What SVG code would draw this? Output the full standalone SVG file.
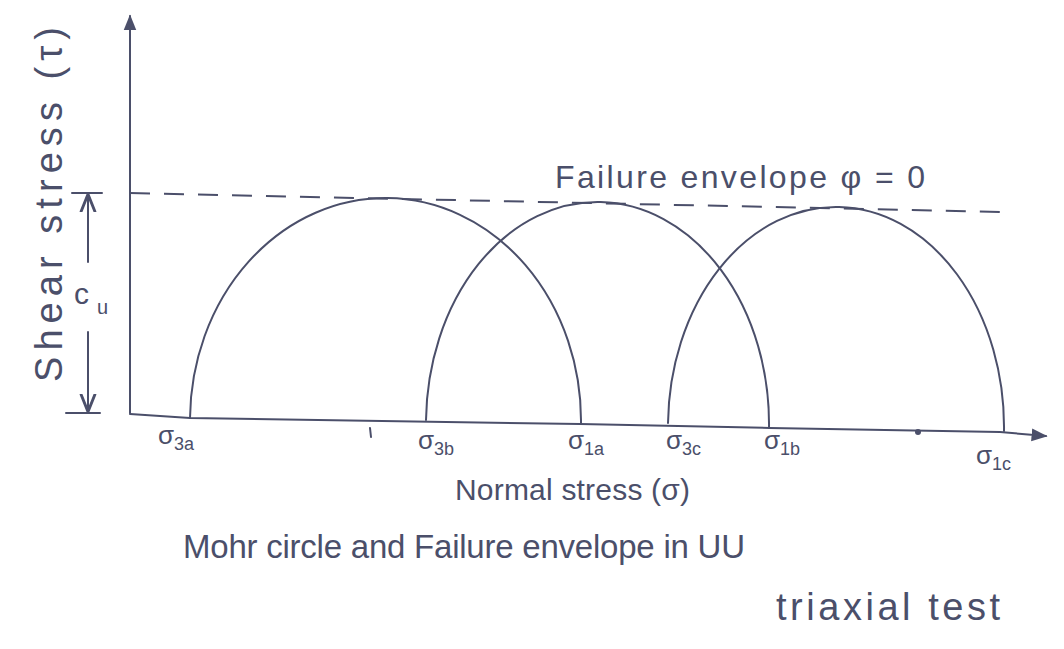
<svg xmlns="http://www.w3.org/2000/svg" width="1064" height="649" viewBox="0 0 1064 649">
<defs>
<style>
.ink{stroke:#4b4f6a;stroke-width:2;fill:none;stroke-linecap:round}
.dash{stroke:#4b4f6a;stroke-width:2;fill:none;stroke-dasharray:20 14}
.t{font-family:"Liberation Sans",Arial,sans-serif;fill:#4b4f6a}
.lab{font-size:26px}
.sub{font-size:18px}
</style>
<marker id="ah" viewBox="0 0 10 10" refX="9" refY="5" markerWidth="8" markerHeight="8" orient="auto-start-reverse">
<path d="M0,1 L10,5 L0,9 Z" fill="#4b4f6a"/>
</marker>
<marker id="oa" viewBox="0 0 10 10" refX="9" refY="5" markerWidth="9" markerHeight="9" orient="auto-start-reverse">
<path d="M0,1 L10,5 L0,9" fill="none" stroke="#4b4f6a" stroke-width="1.6"/>
</marker>
</defs>
<rect width="1064" height="649" fill="#ffffff"/>
<g id="axes">
<line class="ink" x1="130" y1="413" x2="130" y2="16" marker-end="url(#ah)"/>
<path class="ink" d="M130,414 L190,418 L580,424 L770,428 L1000,432 L1046,436" marker-end="url(#ah)"/>
<path class="ink" d="M370,428 L371,437"/>
<circle cx="918" cy="432" r="3" fill="#4b4f6a"/>
</g>
<g id="envelope">
<line class="dash" x1="130" y1="193" x2="1000" y2="212"/>
<text class="t" x="555" y="188" font-size="32" textLength="370" lengthAdjust="spacing">Failure envelope φ = 0</text>
</g>
<g id="circles">
<path class="ink" d="M190,418 A195 222 0 0 1 581,423"/>
<path class="ink" d="M426,420 A170 220 0 0 1 769,428"/>
<path class="ink" d="M668,423 A168 220 0 0 1 1004,431"/>
</g>
<g id="cu">
<line class="ink" x1="72" y1="193" x2="102" y2="193"/>
<line class="ink" x1="66" y1="413" x2="100" y2="413"/>
<line class="ink" x1="88" y1="262" x2="88" y2="196" marker-end="url(#oa)"/>
<line class="ink" x1="88" y1="332" x2="88" y2="410" marker-end="url(#oa)"/>
<text class="t" x="74" y="304" font-size="30">c</text>
<text class="t" x="97" y="314" font-size="20">u</text>
</g>
<g id="ylabel">
<text class="t" font-size="38" transform="translate(62,382) rotate(-90)" textLength="355" lengthAdjust="spacing">Shear stress (τ)</text>
</g>
<g id="ticklabels">
<text x="158" y="444" class="t lab">σ<tspan class="sub" dy="6">3a</tspan></text>
<text x="418" y="449" class="t lab">σ<tspan class="sub" dy="6">3b</tspan></text>
<text x="568" y="449" class="t lab">σ<tspan class="sub" dy="6">1a</tspan></text>
<text x="666" y="449" class="t lab">σ<tspan class="sub" dy="6">3c</tspan></text>
<text x="764" y="449" class="t lab">σ<tspan class="sub" dy="6">1b</tspan></text>
<text x="976" y="464" class="t lab">σ<tspan class="sub" dy="6">1c</tspan></text>
</g>
<g id="captions">
<text class="t" x="455" y="500" font-size="30" textLength="235" lengthAdjust="spacing">Normal stress (σ)</text>
<text class="t" x="183" y="558" font-size="33" textLength="562" lengthAdjust="spacing">Mohr circle and Failure envelope in UU</text>
<text class="t" x="776" y="620" font-size="38" textLength="224" lengthAdjust="spacing">triaxial test</text>
</g>
</svg>
